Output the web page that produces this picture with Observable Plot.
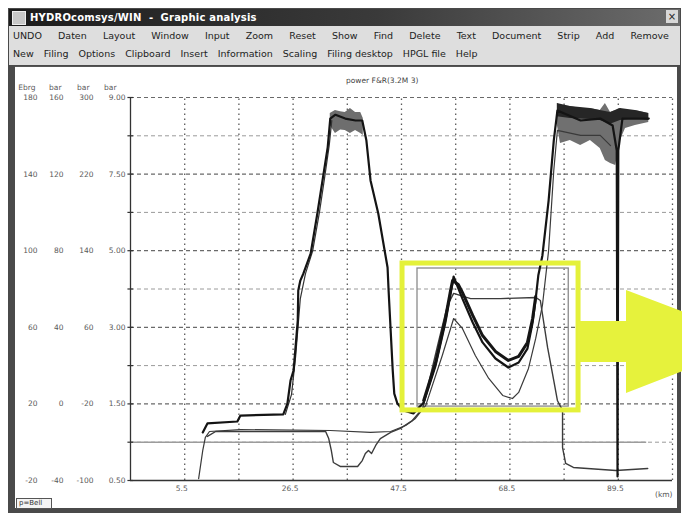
<!DOCTYPE html>
<html><head><meta charset="utf-8">
<script src="https://cdn.jsdelivr.net/npm/d3@7"></script>
<script src="https://cdn.jsdelivr.net/npm/@observablehq/plot@0.6"></script>
<style>
html,body{margin:0;padding:0}
body{width:682px;height:513px;background:#fff;position:relative;overflow:hidden;font-family:"DejaVu Sans",sans-serif}
.abs{position:absolute}
#frame{left:8px;top:8px;width:673px;height:505px;background:#4a4a4a}
#titlebar{left:9px;top:9px;width:671px;height:17px;background:linear-gradient(to right,#1c1c1c,#3a3a3a 55%,#6c6c6c);}
#icon{left:12px;top:11px;width:12px;height:12px;background:#c8c8c8;border:1px solid #eee}
#ttl{left:30px;top:9px;line-height:17px;color:#fff;font-weight:bold;font-size:10px;letter-spacing:0.2px;white-space:pre}
#close{left:666px;top:10px;width:12px;height:13px;background:#d8d8d8;color:#222;font-size:10px;line-height:13px;text-align:center}
#menu{left:9px;top:26px;width:671px;height:39px;background:#dedede}
.mrow{position:absolute;left:13px;font-size:9.5px;color:#222;white-space:nowrap;display:flex}
#r1{top:30px;width:656px;justify-content:space-between}
#r2{top:48px;gap:10px}
#panel{left:15px;top:66px;width:662px;height:441px;background:#fff;border-top:1px solid #555}
#chart{left:14px;top:66px}
#ptitle{left:346px;top:76px;font-size:7.5px;color:#444;white-space:nowrap}
#km{left:655px;top:490px;font-size:7.5px;color:#555}
#status{left:16px;top:498px;width:32px;height:9px;border:1px solid #555;background:#f4f4f4;font-size:7px;line-height:9px;color:#333;padding-left:2px}
#arrow{left:578px;top:290px;width:200px;height:103px;background:#e6f23c;
 clip-path:polygon(0px 31px,48px 31px,48px 0px,182px 51px,48px 103px,48px 72px,0px 72px)}
</style>
</head><body>
<div id="frame" class="abs"></div>
<div id="titlebar" class="abs"></div>
<div id="icon" class="abs"></div>
<div id="ttl" class="abs">HYDROcomsys/WIN  -  Graphic analysis</div>
<div id="close" class="abs">×</div>
<div id="menu" class="abs"></div>
<div id="r1" class="mrow"><span>UNDO</span><span>Daten</span><span>Layout</span><span>Window</span><span>Input</span><span>Zoom</span><span>Reset</span><span>Show</span><span>Find</span><span>Delete</span><span>Text</span><span>Document</span><span>Strip</span><span>Add</span><span>Remove</span></div>
<div id="r2" class="mrow"><span>New</span><span>Filing</span><span>Options</span><span>Clipboard</span><span>Insert</span><span>Information</span><span>Scaling</span><span>Filing desktop</span><span>HPGL file</span><span>Help</span></div>
<div id="panel" class="abs"></div>
<div id="chart" class="abs"></div>
<div id="ptitle" class="abs">power F&amp;R(3.2M 3)</div>
<div id="km" class="abs">(km)</div>
<div id="status" class="abs">p=Bell</div>
<div id="arrow" class="abs"></div>
<script>
// ---- axis values / labels ----
const xGrid = [5.5, 16, 26.5, 37, 47.5, 58, 68.5, 79, 89.5, 100];
const xTickVals = [5.5, 26.5, 47.5, 68.5, 89.5];
const xTickText = ["5.5", "26.5", "47.5", "68.5", "89.5"];
const yMajor = [180, 140, 100, 60, 20];
const yMinor = [160, 120, 80, 40, 0];
const yRows = [180, 140, 100, 60, 20, -20];
const col1 = ["180", "140", "100", "60", "20", "-20"];
const col2 = ["160", "120", "80", "40", "0", "-40"];
const col3 = ["300", "220", "140", "60", "-20", "-100"];
const col4 = ["9.00", "7.50", "5.00", "3.00", "1.50", "0.50"];
const headers = ["Ebrg", "bar", "bar", "bar"];

// ---- series (x = km, y = bar) ----
const p1 = [[9.0,5.1],[9.9,9.8],[15.7,10.8],[16.3,13.9],[24.6,14.5],[25.4,20.2],[26.0,32.2],[26.6,37.5],[27.4,63.5],[27.5,79.2],[27.9,84.4],[28.5,88.1],[29.9,98.5],[31.2,119.4],[32.2,136.7],[33.2,153.9],[33.7,169.0],[34.7,171.0],[36.6,169.0],[38.6,168.0],[39.9,168.0],[40.7,157.5],[41.5,136.7],[43.0,119.4],[44.8,91.2],[45.0,79.2],[45.8,37.5],[46.1,25.4],[46.7,20.2],[47.9,16.6],[49.8,15.0],[51.8,20.7],[54.1,40.0],[56.0,62.5],[57.4,83.4],[57.6,86.5],[59.3,75.0],[61.3,62.5],[63.2,52.1],[65.7,43.7],[68.2,39.0],[70.2,41.6],[71.9,48.9],[72.9,62.5],[73.5,75.0],[74.0,87.0],[74.8,97.5],[76.0,126.2],[77.0,157.5],[77.7,173.2],[82.2,168.0],[86.0,169.0],[88.4,165.4],[89.2,152.3],[89.35,-17.9],[89.5,152.3],[90.3,169.0],[93.8,169.0],[95.4,169.0]];
const p4 = [[51.8,21.8],[54.1,41.6],[56.0,64.6],[57.0,79.2],[57.4,84.4],[58.5,82.4],[59.3,78.2],[61.3,66.2],[63.2,55.7],[65.7,47.4],[68.2,42.7],[70.2,44.8],[71.9,52.1],[72.9,64.6],[73.5,76.1]];
const p5 = [[25.0,14.5],[26.2,25.0],[27.0,45.0],[27.9,75.0],[28.9,88.0],[30.3,100.0],[31.6,120.0],[32.6,138.0],[33.5,155.0],[34.0,168.0]];
const p2 = [[8.2,-19.0],[9.0,-4.3],[9.5,2.5],[10.3,5.6],[16.3,6.6],[33.7,6.1],[41.5,5.1],[45.4,5.6],[48.3,8.7],[50.2,12.4],[52.2,19.2],[55.4,45.3],[57.6,64.6],[59.3,59.4],[61.8,45.3],[64.4,33.3],[67.1,24.4],[69.0,22.8],[70.2,26.0],[72.1,38.5],[73.5,54.2],[74.8,71.4],[76.0,100.1],[77.0,141.9],[77.7,162.8],[82.2,160.2],[86.0,160.2],[88.0,154.9]];
const p3 = [[9.9,3.0],[11.5,5.6],[32.8,5.6],[33.4,1.9],[33.9,-4.3],[34.3,-10.6],[35.7,-12.7],[39.0,-12.7],[39.9,-9.6],[40.5,-5.9],[41.1,-4.3],[41.7,-5.9],[42.5,-1.7],[43.4,1.9],[45.4,5.1],[47.3,7.2],[49.6,11.3],[51.6,17.6],[54.5,50.5],[56.4,71.4],[57.6,77.7],[60.9,75.0],[66.7,75.0],[73.5,75.6],[74.4,74.0],[75.8,49.5],[77.0,32.2],[77.7,21.8],[78.7,16.6],[78.7,-2.8],[79.3,-11.1],[80.8,-13.2],[89.0,-14.8],[95.2,-13.7]];
const band1 = [[33.7,171.6,165.4],[34.7,173.2,161.2],[35.7,172.5,163.0],[36.6,172.2,162.8],[37.6,174.3,161.2],[38.6,172.2,162.8],[39.6,172.2,161.2],[40.1,169.0,160.2]];
const band2 = [[77.7,176.9,165.4],[78.3,175.8,156.0],[80.2,175.3,157.5],[82.2,174.3,154.9],[84.1,174.3,157.5],[86.0,173.2,153.4],[87.0,176.9,147.1],[88.0,172.2,145.5],[89.0,173.2,144.5],[89.9,174.3,157.5],[90.9,172.2,163.8],[92.8,173.2,165.4],[95.4,171.6,166.9]];
const band2Dark = [[77.7,176.9,170.0],[80.2,175.3,169.0],[84.1,174.3,168.5],[86.0,173.2,168.0],[88.0,172.2,166.0],[89.9,174.3,168.0],[92.8,173.2,169.0],[95.4,171.6,168.0]];
const zeroLine = [0];
const zoomBox = [{x1: 50.6, x2: 79.9, y1: 18.6, y2: 90.7}];
const highlightBox = [{x1: 47.7, x2: 81.8, y1: 16.6, y2: 93.3}];

const rowData = yRows.map((y, i) => ({y, c1: col1[i], c2: col2[i], c3: col3[i], c4: col4[i]}));
const xTickData = xTickVals.map((x, i) => ({x, t: xTickText[i]}));
const band = (arr) => arr.map(([x, a, b]) => ({x, y1: b, y2: a}));
const pts = (arr) => arr.map(([x, y]) => ({x, y}));

const lblStyle = {fill: "#5a5a5a", fontSize: 7.5, textAnchor: "end", frameAnchor: "left"};

const chart = Plot.plot({
  width: 664, height: 434,
  marginLeft: 116, marginRight: 6, marginTop: 31, marginBottom: 20,
  x: {domain: [-5, 100], axis: null},
  y: {domain: [-20, 180], axis: null},
  style: {background: "transparent", fontFamily: "DejaVu Sans, sans-serif", fontSize: "7.5px", overflow: "visible"},
  marks: [
    Plot.ruleY(yMinor, {stroke: "#9a9a9a", strokeDasharray: "4,3", strokeWidth: 1}),
    Plot.ruleY(yMajor, {stroke: "#6a6a6a", strokeDasharray: "4,3", strokeWidth: 1.2}),
    Plot.ruleX(xGrid, {y1: -20, y2: 180, stroke: "#5a5a5a", strokeDasharray: "1.5,3.5", strokeWidth: 1.3}),
    Plot.ruleY(zeroLine, {x1: -5, x2: 95, stroke: "#9c9c9c", strokeWidth: 1.6}),
    Plot.rect(zoomBox, {x1: "x1", x2: "x2", y1: "y1", y2: "y2", fill: "none", stroke: "#8a8a8a", strokeWidth: 1.3}),
    Plot.areaY(band(band1), {x: "x", y1: "y1", y2: "y2", fill: "#6e6e6e"}),
    Plot.areaY(band(band2), {x: "x", y1: "y1", y2: "y2", fill: "#707070"}),
    Plot.areaY(band(band2Dark), {x: "x", y1: "y1", y2: "y2", fill: "#262626"}),
    Plot.line(pts(p2), {x: "x", y: "y", stroke: "#3a3a3a", strokeWidth: 1.2}),
    Plot.line(pts(p3), {x: "x", y: "y", stroke: "#3c3c3c", strokeWidth: 1.4}),
    Plot.line(pts(p5), {x: "x", y: "y", stroke: "#333", strokeWidth: 1.2}),
    Plot.line(pts(p4), {x: "x", y: "y", stroke: "#161616", strokeWidth: 3}),
    Plot.line(pts(p1), {x: "x", y: "y", stroke: "#141414", strokeWidth: 2.2}),
    Plot.rect(highlightBox, {x1: "x1", x2: "x2", y1: "y1", y2: "y2", fill: "none", stroke: "#e4f13a", strokeWidth: 5}),
    Plot.ruleX([-5], {y1: -20, y2: 180, stroke: "#333", strokeWidth: 1.3}),
    Plot.ruleY([-20], {x1: -5, x2: 100, stroke: "#333", strokeWidth: 1.3}),
    Plot.ruleY([...yMajor, ...yMinor, -20], {x1: -5.5, x2: -4.4, stroke: "#333", strokeWidth: 1.2}),
    Plot.text(rowData, {y: "y", text: "c1", dx: -93, ...lblStyle}),
    Plot.text(rowData, {y: "y", text: "c2", dx: -67, ...lblStyle}),
    Plot.text(rowData, {y: "y", text: "c3", dx: -37, ...lblStyle}),
    Plot.text(rowData, {y: "y", text: "c4", dx: -5, ...lblStyle}),
    Plot.text([headers[0]], {frameAnchor: "top-left", dx: -95, dy: -13, textAnchor: "end", fill: "#5a5a5a", fontSize: 7.5}),
    Plot.text([headers[1]], {frameAnchor: "top-left", dx: -69, dy: -13, textAnchor: "end", fill: "#5a5a5a", fontSize: 7.5}),
    Plot.text([headers[2]], {frameAnchor: "top-left", dx: -41, dy: -13, textAnchor: "end", fill: "#5a5a5a", fontSize: 7.5}),
    Plot.text([headers[3]], {frameAnchor: "top-left", dx: -14, dy: -13, textAnchor: "end", fill: "#5a5a5a", fontSize: 7.5}),
    Plot.text(xTickData, {x: "x", y: () => -20, text: "t", dy: 8, dx: -3, fill: "#5a5a5a", fontSize: 7.5})
  ]
});
document.getElementById("chart").appendChild(chart);
</script>
</body></html>
